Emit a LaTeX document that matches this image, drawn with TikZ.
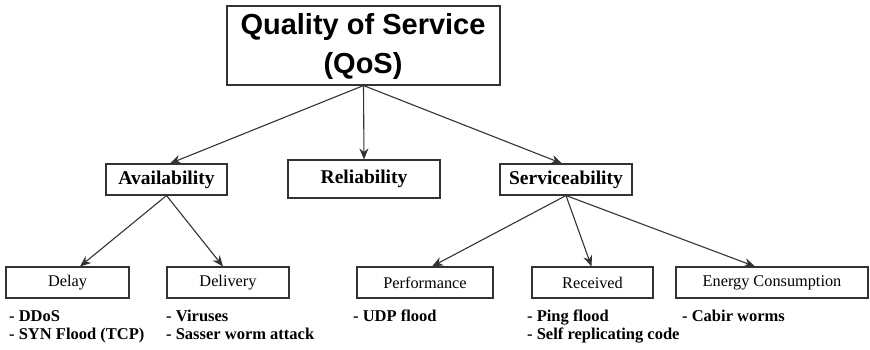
\documentclass[tikz,border=0pt]{standalone}
\usepackage{fontspec}
\setmainfont{Liberation Serif}
\newfontfamily\titlefont{Liberation Sans}
\usetikzlibrary{arrows.meta}
\definecolor{lc}{HTML}{333333}
\tikzset{
  box/.style={draw=lc, line width=1.1pt, rectangle, inner sep=0pt, anchor=center},
  midbox/.style={box, font=\fontsize{19.5}{22}\selectfont\bfseries, minimum height=31pt},
  lowbox/.style={box, font=\fontsize{16.3}{19}\selectfont, minimum height=31pt},
  item/.style={anchor=base west, inner sep=0pt, font=\fontsize{16.5}{19}\selectfont\bfseries},
  arr/.style={draw=lc, line width=1.1pt, -{Stealth[length=11pt, width=9pt]}}
}
\begin{document}
\begin{tikzpicture}[x=1pt,y=-1pt]
\useasboundingbox (0,0) rectangle (870,350);
% top
\node[box, minimum width=273pt, minimum height=79pt] (qos) at (363.5,45.5) {};
\node[anchor=base, inner sep=0pt, font=\titlefont\fontsize{29}{34}\selectfont\bfseries] (qos1) at (363,35) {Quality of Service};
\node[anchor=base, inner sep=0pt, font=\titlefont\fontsize{29}{34}\selectfont\bfseries] (qos2) at (363,74) {(QoS)};
\coordinate (qs) at (qos.south);
% middle
\node[midbox, minimum width=121pt] (avail) at (166.5,179.5) {Availability};
\node[midbox, minimum width=152pt, minimum height=38pt] (rel) at (364,179) {Reliability};
\node[midbox, minimum width=132pt] (serv) at (566,179.5) {Serviceability};
% bottom
\node[lowbox, minimum width=123pt] (delay) at (67.5,282.5) {Delay};
\node[lowbox, minimum width=122pt] (deliv) at (228,282.5) {Delivery};
\node[lowbox, minimum width=136pt] (perf) at (425,282.5) {Performance};
\node[lowbox, minimum width=121pt] (recv) at (592.5,282.5) {Received};
\node[lowbox, minimum width=192pt] (energy) at (772,282.5) {Energy Consumption};
% arrows
\draw[arr] (qs) -- ([xshift=3.5pt]avail.north);
\draw[arr] (qs) -- (rel.north);
\draw[arr] (qs) -- ([xshift=-4pt]serv.north);
\draw[arr] (avail.south) -- ([xshift=12.5pt]delay.north);
\draw[arr] (avail.south) -- ([xshift=-5pt]deliv.north);
\draw[arr] (serv.south) -- ([xshift=7pt]perf.north);
\draw[arr] (serv.south) -- ([xshift=-1pt]recv.north);
\draw[arr] (serv.south) -- ([xshift=-17pt]energy.north);
% lists
\node[item] (d1) at (9,321) {- DDoS};
\node[item] (d2) at (9,339) {- SYN Flood (TCP)};
\node[item] (v1) at (166,321) {- Viruses};
\node[item] (v2) at (166,339) {- Sasser worm attack};
\node[item] (p1) at (353,321) {- UDP flood};
\node[item] (r1) at (527,321) {- Ping flood};
\node[item] (r2) at (527,339) {- Self replicating code};
\node[item] (e1) at (682,321) {- Cabir worms};
\end{tikzpicture}
\end{document}
